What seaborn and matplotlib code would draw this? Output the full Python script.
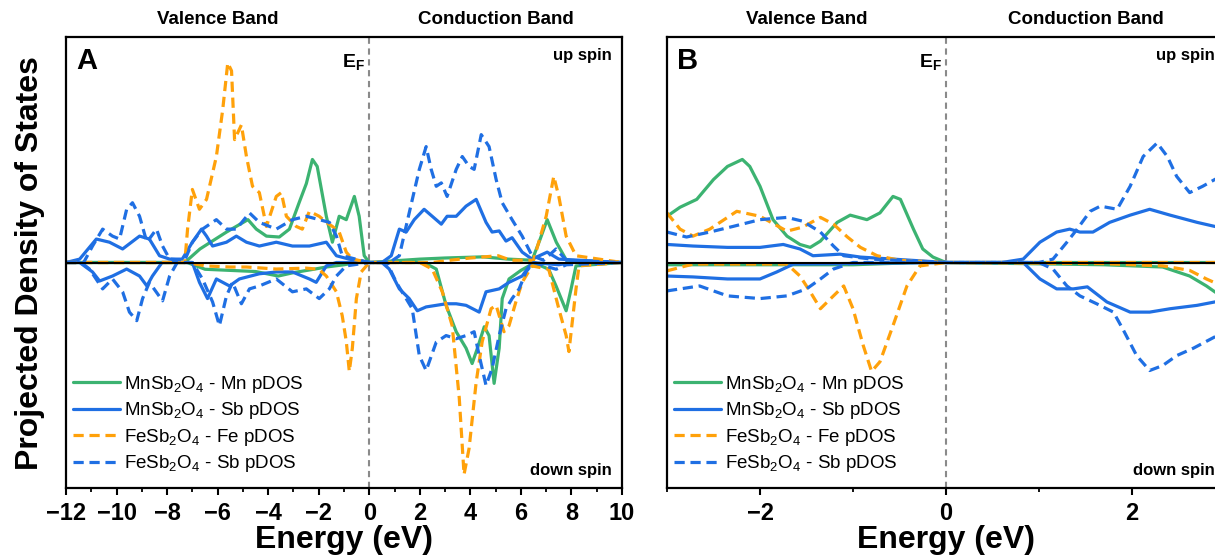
import matplotlib.pyplot as plt
import seaborn as sns
from matplotlib.ticker import MultipleLocator

GREEN = "#3cb371"
BLUE = "#1f6fe3"
ORANGE = "#ffa10a"

# ---- panel A : full energy window ----
A_MN_UP_E = [-12, -7.3, -6.7, -5.65, -4.8, -4.47, -4.07, -3.56, -3.16, -2.77, -2.49, -2.25, -2.06, -1.7, -1.46, -1.19, -0.91, -0.59, -0.4, -0.2, 0, 2.0, 3.0, 4.5, 5.5, 6.44, 6.75, 7.04, 7.4, 7.8, 10]
A_MN_UP = [0, 0, 0.6, 1.35, 1.9, 1.48, 1.17, 1.13, 1.48, 2.67, 3.5, 4.57, 4.26, 2.05, 0.9, 2.05, 1.9, 2.93, 2.05, 0.3, 0, 0.15, 0.2, 0.25, 0.15, 0.1, 1.0, 1.9, 0.9, 0.1, 0]
A_MN_DN_E = [-12, -7.2, -6.5, -5.5, -4.5, -3.6, -3.0, -2.2, -1.7, -1.0, -0.5, 0, 2.0, 2.25, 2.65, 3.04, 3.44, 3.83, 4.07, 4.28, 4.55, 4.74, 4.94, 5.14, 5.26, 5.53, 6.0, 6.32, 6.8, 7.1, 7.39, 7.79, 7.98, 8.18, 10]
A_MN_DN = [0, 0, -0.3, -0.35, -0.4, -0.6, -0.45, -0.3, -0.2, -0.1, 0, 0, 0, -0.05, -0.29, -1.9, -3.07, -3.8, -4.48, -3.8, -2.85, -3.24, -5.36, -3.8, -1.6, -0.73, -0.35, -0.15, -0.15, -0.3, -1.04, -2.14, -1.2, -0.15, 0]

A_MNSB_UP_E = [-12, -11.46, -10.8, -10.28, -9.76, -9.09, -8.7, -8.3, -7.9, -7.4, -7.0, -6.64, -6.44, -6.2, -5.65, -5.26, -4.86, -4.35, -3.68, -3.04, -2.37, -1.7, -1.3, -0.8, 0, 0.5, 0.87, 1.19, 1.46, 1.78, 2.17, 2.49, 2.85, 3.08, 3.44, 3.83, 4.23, 4.62, 4.86, 5.14, 5.41, 5.65, 6.05, 6.44, 7.04, 7.5, 10]
A_MNSB_UP = [0, 0.15, 1.04, 0.9, 0.6, 1.17, 1.04, 0.3, 0.15, 0.15, 0.9, 1.48, 1.17, 0.73, 0.9, 1.17, 0.9, 0.73, 0.9, 0.73, 0.73, 0.9, 0.3, 0.15, 0, 0, 0.3, 1.48, 1.35, 1.9, 2.36, 2.05, 1.7, 2.05, 2.05, 2.5, 2.8, 1.78, 1.35, 1.4, 0.95, 1.1, 0.46, 0.15, 0.46, 0.15, 0]
A_MNSB_DN_E = [-12, -11.46, -10.95, -10.67, -10.16, -9.6, -9.09, -8.8, -8.58, -8.2, -7.0, -6.72, -6.4, -6.05, -5.53, -5.14, -4.35, -3.68, -3.04, -2.37, -2.1, -1.7, -1.3, 0, 0.5, 0.79, 1.19, 1.58, 1.9, 2.25, 2.65, 3.04, 3.44, 3.83, 4.35, 4.62, 5.14, 5.53, 6.05, 6.44, 7.5, 8.0, 10]
A_MNSB_DN = [0, 0, -0.42, -0.82, -0.6, -0.29, -0.6, -1.04, -0.6, 0, 0, -0.88, -1.6, -0.73, -1.04, -0.73, -0.5, -0.42, -0.42, -0.73, -0.88, -0.15, 0, 0, 0, -0.29, -1.17, -1.6, -2.14, -1.97, -1.9, -1.83, -1.83, -1.9, -2.2, -1.3, -1.17, -0.88, -0.6, 0, -0.1, 0, 0]

A_FE_UP_E = [-12, -7.3, -7.19, -7.0, -6.72, -6.44, -6.05, -5.8, -5.6, -5.45, -5.33, -5.06, -4.86, -4.62, -4.35, -4.07, -3.68, -3.48, -3.28, -2.89, -2.65, -2.37, -1.98, -1.7, -1.46, -1.19, -0.91, -0.67, 0, 2.5, 3.2, 4.0, 5.1, 5.6, 6.5, 7.0, 7.3, 7.5, 7.79, 8.18, 10]
A_FE_UP = [0, 0, 1.48, 3.24, 2.36, 2.8, 4.7, 6.77, 8.85, 8.5, 5.45, 6.1, 4.7, 3.38, 3.1, 1.6, 2.93, 3.1, 2.05, 1.6, 1.48, 2.27, 2.05, 1.78, 1.6, 1.35, 0.46, 0.15, 0, 0, 0.1, 0.2, 0.3, 0.1, 0.1, 2.05, 3.82, 2.93, 1.17, 0.3, 0]
A_FE_DN_E = [-12, -7.2, -6.5, -5.5, -4.86, -3.68, -2.5, -2.0, -1.7, -1.3, -1.07, -0.91, -0.79, -0.67, -0.51, -0.32, 0, 2.0, 2.49, 2.89, 3.28, 3.56, 3.75, 3.95, 4.23, 4.47, 4.82, 5.02, 5.33, 5.53, 5.8, 6.05, 6.44, 7.1, 7.5, 7.79, 7.9, 8.18, 8.3, 10]
A_FE_DN = [0, 0, -0.15, -0.2, -0.2, -0.29, -0.25, -0.3, -0.6, -1.3, -2.36, -3.5, -4.83, -3.8, -1.6, -0.42, 0, 0, -0.29, -1.3, -2.8, -6.0, -9.4, -8.24, -5.3, -3.5, -2.05, -1.9, -3.07, -2.8, -1.75, -0.88, -0.15, -0.3, -2.05, -3.24, -3.95, -1.17, -0.15, 0]

A_FESB_UP_E = [-12, -11.3, -10.95, -10.55, -10.16, -9.88, -9.6, -9.37, -9.09, -8.8, -8.42, -8.18, -7.9, -7.3, -7.0, -6.6, -6.05, -5.65, -5.26, -4.74, -4.35, -3.68, -3.04, -2.49, -1.98, -1.58, -1.3, -1.07, 0, 0.8, 1.19, 1.58, 1.98, 2.25, 2.45, 2.65, 2.85, 3.08, 3.44, 3.68, 3.95, 4.15, 4.43, 4.74, 5.02, 5.26, 5.65, 6.05, 6.44, 6.9, 7.39, 7.8, 10]
A_FESB_UP = [0, 0, 0.73, 1.48, 1.17, 1.04, 2.36, 2.65, 2.05, 0.9, 1.48, 0.73, 0.15, 0.1, 0.9, 1.48, 1.9, 1.48, 1.48, 2.2, 1.78, 1.48, 1.9, 2.05, 1.9, 1.78, 1.17, 0.3, 0, 0, 0.3, 2.2, 4.13, 5.14, 4.13, 3.38, 3.53, 2.93, 4.13, 4.7, 4.26, 4.13, 5.67, 5.14, 3.68, 2.65, 1.9, 1.17, 0.3, 0.1, 0.6, 0.1, 0]
A_FESB_DN_E = [-12, -11.4, -11.07, -10.55, -10.16, -9.76, -9.49, -9.2, -8.97, -8.7, -8.18, -7.9, -7.6, -7.0, -6.6, -6.2, -5.93, -5.65, -5.41, -5.06, -4.74, -4.35, -3.68, -3.04, -2.49, -1.98, -1.58, -1.3, -0.91, 0, 0.7, 1.07, 1.7, 1.98, 2.25, 2.65, 3.04, 3.44, 3.83, 4.15, 4.35, 4.62, 4.86, 5.14, 5.41, 5.65, 5.93, 6.2, 6.5, 7.39, 7.8, 10]
A_FESB_DN = [0, 0, -0.29, -1.17, -0.73, -1.3, -2.2, -2.58, -1.6, -0.88, -1.7, -0.6, 0, 0, -0.73, -1.75, -2.8, -1.48, -0.88, -1.83, -1.17, -1.04, -0.73, -1.3, -1.17, -1.6, -1.17, -0.6, -0.15, 0, 0, -0.88, -2.05, -4.13, -4.79, -3.53, -3.24, -3.38, -3.24, -3.07, -4.13, -5.45, -4.7, -3.24, -2.05, -1.6, -1.17, -0.42, 0, -0.3, -0.1, 0]

# ---- panel B : zoom around the Fermi level ----
B_MN_UP_E = [-3.0, -2.86, -2.68, -2.5, -2.35, -2.19, -2.11, -2.0, -1.86, -1.71, -1.57, -1.46, -1.35, -1.17, -1.03, -0.85, -0.71, -0.57, -0.49, -0.35, -0.25, -0.14, 0, 3.0]
B_MN_UP = [2.05, 2.45, 2.8, 3.68, 4.26, 4.57, 4.26, 3.38, 1.9, 1.17, 0.8, 0.67, 0.95, 1.78, 2.1, 1.9, 2.2, 2.93, 2.8, 1.48, 0.6, 0.24, 0, 0]
B_MN_DN_E = [-3.0, -1.0, -0.3, 0, 1.7, 2.33, 2.62, 2.8, 2.89, 3.0]
B_MN_DN = [-0.1, -0.1, 0, 0, -0.1, -0.2, -0.6, -1.04, -1.3, -1.6]

B_MNSB_UP_E = [-3.0, -2.72, -2.35, -2.0, -1.75, -1.57, -1.43, -1.14, -0.92, -0.57, 0, 0.6, 0.83, 1.01, 1.19, 1.33, 1.44, 1.58, 1.76, 1.98, 2.19, 2.41, 2.7, 2.89, 3.0]
B_MNSB_UP = [0.8, 0.73, 0.67, 0.67, 0.8, 0.6, 0.3, 0.37, 0.24, 0.15, 0, 0, 0.15, 0.9, 1.35, 1.48, 1.35, 1.35, 1.78, 2.1, 2.36, 2.1, 1.78, 1.6, 1.55]
B_MNSB_DN_E = [-3.0, -2.72, -2.35, -2.0, -1.82, -1.64, 0, 0.6, 0.83, 1.01, 1.19, 1.37, 1.52, 1.73, 1.98, 2.19, 2.41, 2.7, 2.89, 3.0]
B_MNSB_DN = [-0.6, -0.64, -0.73, -0.73, -0.42, -0.07, 0, 0, 0, -0.73, -1.17, -1.17, -1.08, -1.75, -2.2, -2.2, -2.05, -1.9, -1.75, -1.7]

B_FE_UP_E = [-3.0, -2.86, -2.72, -2.54, -2.25, -2.0, -1.71, -1.54, -1.35, -1.21, -1.06, -0.92, -0.74, -0.5, 0, 3.0]
B_FE_UP = [2.2, 1.48, 1.17, 1.48, 2.27, 2.05, 1.39, 1.57, 2.0, 1.7, 1.13, 0.67, 0.3, 0.1, 0, 0]
B_FE_DN_E = [-3.0, -2.72, -1.71, -1.57, -1.46, -1.35, -1.21, -1.1, -1.0, -0.89, -0.8, -0.71, -0.57, -0.42, -0.28, 0, 1.7, 2.33, 2.62, 2.8, 3.0]
B_FE_DN = [-0.37, -0.07, -0.07, -0.6, -1.3, -2.05, -1.48, -1.04, -2.05, -3.68, -4.83, -4.4, -2.8, -1.04, -0.15, 0, -0.05, -0.15, -0.35, -0.73, -1.1]

B_FESB_UP_E = [-3.0, -2.79, -2.54, -2.29, -2.0, -1.71, -1.54, -1.35, -1.21, -1.1, -0.8, 0, 1.0, 1.15, 1.3, 1.41, 1.55, 1.66, 1.84, 1.98, 2.12, 2.27, 2.38, 2.48, 2.62, 2.76, 2.89, 3.0]
B_FESB_UP = [1.35, 1.13, 1.35, 1.6, 1.9, 2.0, 1.83, 1.35, 0.73, 0.3, 0.15, 0, 0, 0.15, 0.9, 1.48, 2.27, 2.5, 2.36, 3.38, 4.7, 5.3, 4.7, 3.82, 3.1, 3.38, 3.68, 3.9]
B_FESB_DN_E = [-3.0, -2.65, -2.35, -2.0, -1.71, -1.5, -1.35, -1.21, -1.0, 0, 1.0, 1.15, 1.3, 1.44, 1.62, 1.8, 1.9, 2.05, 2.19, 2.33, 2.48, 2.66, 2.89, 3.0]
B_FESB_DN = [-1.26, -1.04, -1.48, -1.6, -1.48, -1.17, -0.73, -0.29, 0, 0, 0, -0.29, -1.04, -1.48, -1.83, -2.2, -2.94, -4.13, -4.79, -4.57, -4.13, -3.8, -3.3, -3.1]

LABELS = ["MnSb$_2$O$_4$ - Mn pDOS", "MnSb$_2$O$_4$ - Sb pDOS",
          "FeSb$_2$O$_4$ - Fe pDOS", "FeSb$_2$O$_4$ - Sb pDOS"]

sns.set_style("ticks")
plt.rcParams["font.family"] = ["Liberation Sans", "DejaVu Sans"]
plt.rcParams["mathtext.fontset"] = "custom"
plt.rcParams["mathtext.rm"] = "Liberation Sans"
plt.rcParams["mathtext.it"] = "Liberation Sans:italic"
plt.rcParams["mathtext.bf"] = "Liberation Sans:bold"
plt.rcParams["text.color"] = "black"
plt.rcParams["axes.labelcolor"] = "black"
plt.rcParams["xtick.color"] = "black"

SOLID = "-"
DASHED = (0, (3.2, 1.8))


def draw_panel(ax, curves, xlim, letter, ef_x, valence_x, conduction_x):
    for label, color, ls, ue, uv, de, dv in curves:
        sns.lineplot(x=ue, y=uv, ax=ax, color=color, lw=2.3, linestyle=ls,
                     label=label, estimator=None, sort=False)
        sns.lineplot(x=de, y=dv, ax=ax, color=color, lw=2.3, linestyle=ls,
                     estimator=None, sort=False)
    ax.axhline(0, color="black", lw=1.5, zorder=3)
    ax.axvline(0, color="#8a8a8a", lw=1.5, ls=(0, (3, 2.2)), zorder=1)
    ax.set_xlim(*xlim)
    ax.set_ylim(-10, 10)
    ax.set_yticks([])
    ax.xaxis.set_major_locator(MultipleLocator(2))
    ax.xaxis.set_minor_locator(MultipleLocator(1))
    ax.tick_params(axis="x", which="major", length=5, width=1.5, pad=5,
                   labelsize=17)
    ax.tick_params(axis="x", which="minor", length=3, width=1.3)
    for t in ax.get_xticklabels():
        t.set_fontweight("bold")
    for s in ax.spines.values():
        s.set_linewidth(1.6)
        s.set_color("black")
    ax.set_xlabel("Energy (eV)", fontsize=23, fontweight="bold")
    ax.xaxis.set_label_coords(0.5, -0.083)

    ax.text(0.018, 0.978, letter, transform=ax.transAxes, fontsize=21,
            fontweight="bold", ha="left", va="top")
    ax.text(ef_x, 8.9, r"$\mathbf{E_F}$", fontsize=14, ha="right", va="center")
    ax.text(0.982, 0.975, "up spin", transform=ax.transAxes, fontsize=12,
            fontweight="bold", ha="right", va="top")
    ax.text(0.982, 0.022, "down spin", transform=ax.transAxes, fontsize=12,
            fontweight="bold", ha="right", va="bottom")
    tr = ax.get_xaxis_transform()
    ax.text(valence_x, 1.02, "Valence Band", transform=tr, fontsize=13.5,
            fontweight="bold", ha="center", va="bottom")
    ax.text(conduction_x, 1.02, "Conduction Band", transform=tr, fontsize=13.5,
            fontweight="bold", ha="center", va="bottom")

    ax.legend(loc="lower left", bbox_to_anchor=(0.012, 0.03), frameon=False,
              fontsize=13.5, handlelength=2.5, handletextpad=0.25,
              labelspacing=0.3, borderaxespad=0, borderpad=0)


fig = plt.figure(figsize=(12.15, 5.6), dpi=100)
axA = fig.add_axes([66 / 1215, 72 / 560, 556 / 1215, 451 / 560])
axB = fig.add_axes([667 / 1215, 72 / 560, 558 / 1215, 451 / 560])

curves_a = [
    (LABELS[0], GREEN, SOLID, A_MN_UP_E, A_MN_UP, A_MN_DN_E, A_MN_DN),
    (LABELS[1], BLUE, SOLID, A_MNSB_UP_E, A_MNSB_UP, A_MNSB_DN_E, A_MNSB_DN),
    (LABELS[2], ORANGE, DASHED, A_FE_UP_E, A_FE_UP, A_FE_DN_E, A_FE_DN),
    (LABELS[3], BLUE, DASHED, A_FESB_UP_E, A_FESB_UP, A_FESB_DN_E, A_FESB_DN),
]
curves_b = [
    (LABELS[0], GREEN, SOLID, B_MN_UP_E, B_MN_UP, B_MN_DN_E, B_MN_DN),
    (LABELS[1], BLUE, SOLID, B_MNSB_UP_E, B_MNSB_UP, B_MNSB_DN_E, B_MNSB_DN),
    (LABELS[2], ORANGE, DASHED, B_FE_UP_E, B_FE_UP, B_FE_DN_E, B_FE_DN),
    (LABELS[3], BLUE, DASHED, B_FESB_UP_E, B_FESB_UP, B_FESB_DN_E, B_FESB_DN),
]

draw_panel(axA, curves_a, (-12, 10), "A", -0.15, -6, 5)
draw_panel(axB, curves_b, (-3, 3), "B", -0.04, -1.5, 1.5)

fig.text(0.025, 0.531, "Projected Density of States", rotation=90,
         ha="center", va="center", fontsize=23, fontweight="bold")

fig.savefig("out.png", dpi=100)
